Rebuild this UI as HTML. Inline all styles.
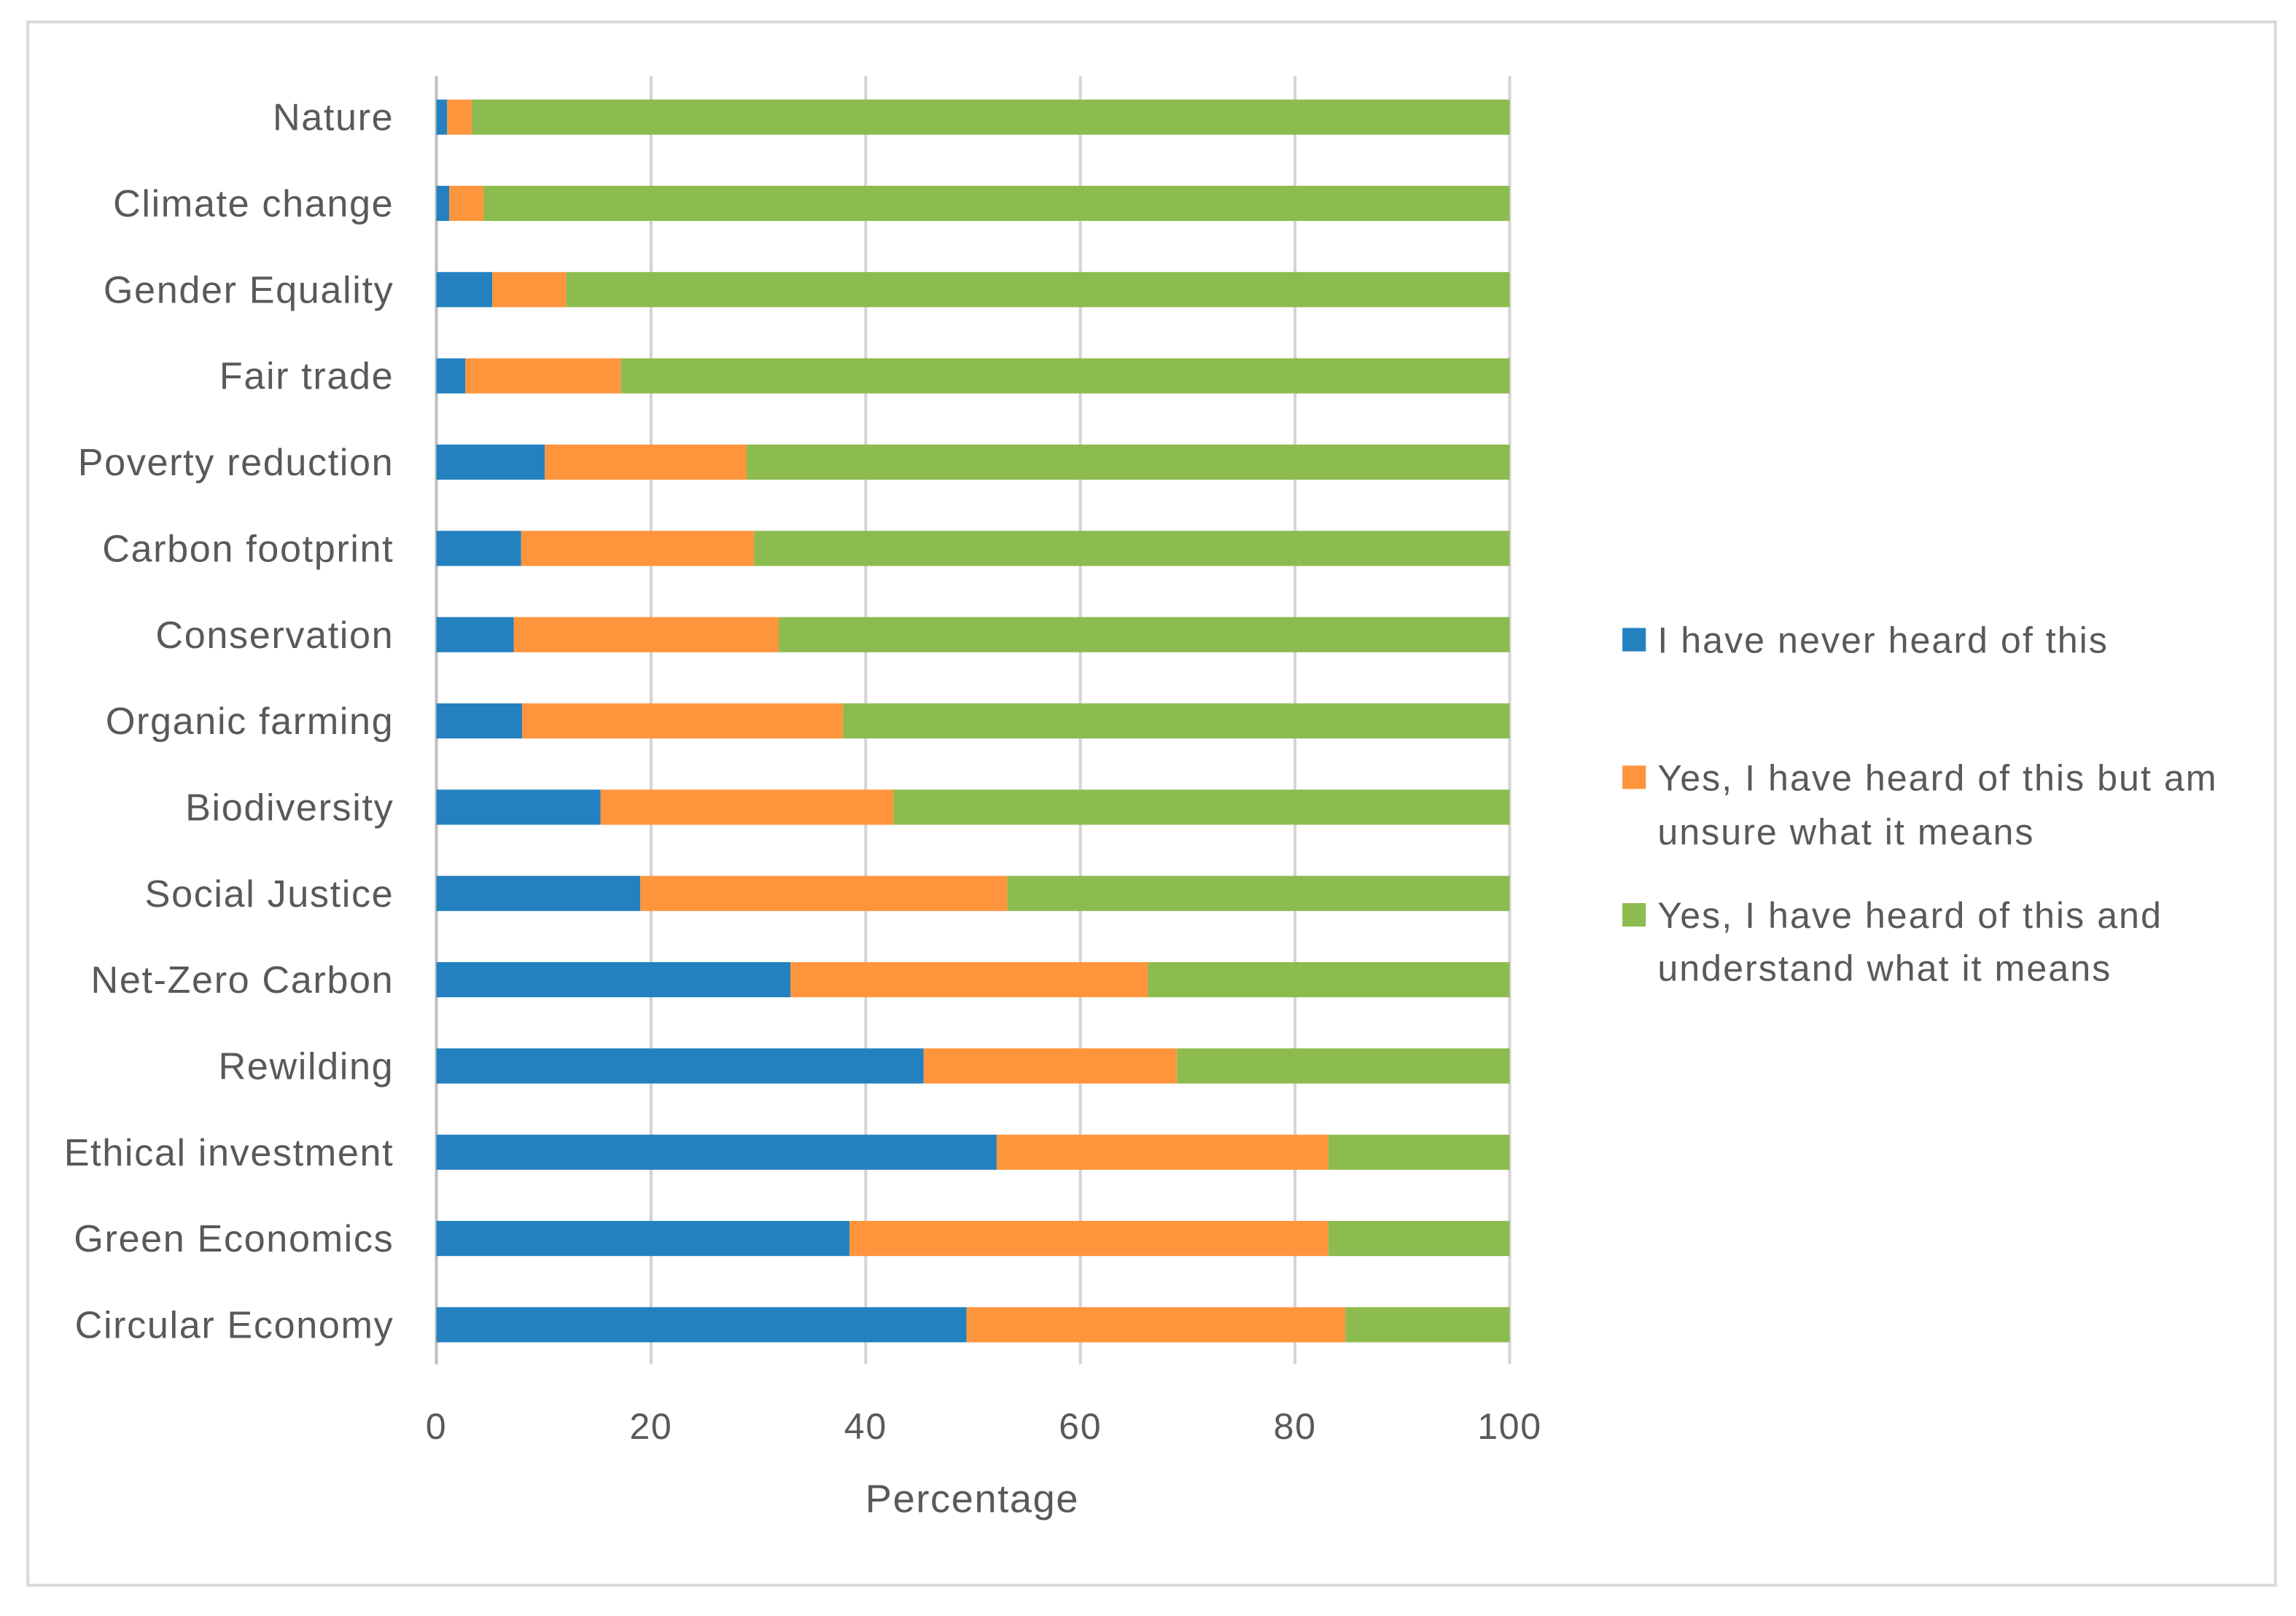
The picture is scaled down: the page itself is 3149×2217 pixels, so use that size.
<!DOCTYPE html>
<html><head><meta charset="utf-8"><style>html,body{margin:0;padding:0;background:#fff}svg{display:block}text{font-family:"Liberation Sans",sans-serif;fill:#595959}</style></head>
<body>
<svg id="chart" width="3149" height="2217" viewBox="0 0 1568 1104" xmlns="http://www.w3.org/2000/svg">
<rect x="19" y="15" width="1535" height="1068" fill="#fff" stroke="#d9d9d9" stroke-width="2"/>
<g id="grid"></g><g id="bars"></g><g id="labels"></g>
<text x="664" y="1033" font-size="27" letter-spacing="0.8" text-anchor="middle">Percentage</text>
<g font-size="25" letter-spacing="1">
<rect x="1108" y="429" width="16" height="16" fill="#2481bf"/>
<text x="1132" y="446">I have never heard of this</text>
<rect x="1108" y="523" width="16" height="16" fill="#fe953d"/>
<text x="1132" y="540">Yes, I have heard of this but am</text>
<text x="1132" y="577">unsure what it means</text>
<rect x="1108" y="617" width="16" height="16" fill="#8cbb4f"/>
<text x="1132" y="634">Yes, I have heard of this and</text>
<text x="1132" y="670">understand what it means</text>
</g>
</svg>
<script>
const categories=["Nature","Climate change","Gender Equality","Fair trade","Poverty reduction","Carbon footprint","Conservation","Organic farming","Biodiversity","Social Justice","Net-Zero Carbon","Rewilding","Ethical investment","Green Economics","Circular Economy"];
const neverHeard=[1,1.2,5.2,2.7,10.1,7.9,7.2,8,15.3,19,33,45.4,52.2,38.5,49.4];
const unsure=[2.3,3.2,6.9,14.5,18.8,21.7,24.7,29.9,27.3,34.2,33.3,23.6,30.9,44.6,35.3];
const understand=[96.7,95.6,87.9,82.8,71.1,70.4,68.1,62.1,57.4,46.8,33.7,31,16.9,16.9,15.3];
const xTicks=[0,20,40,60,80,100];
const NS="http://www.w3.org/2000/svg";
const x=v=>298+v*7.33;
const yC=i=>80+i*58.93;
const BH=24;
function mk(tag,attrs,parent){const e=document.createElementNS(NS,tag);for(const k in attrs)e.setAttribute(k,attrs[k]);parent.appendChild(e);return e;}
const grid=document.getElementById('grid'),bars=document.getElementById('bars'),labels=document.getElementById('labels');
xTicks.forEach(t=>{
 const l=mk('line',{x1:x(t),x2:x(t),y1:52,y2:932,stroke:t===0?'#bfbfbf':'#d4d4d4','stroke-width':2},grid);
 
 
 const tx=mk('text',{x:x(t),y:983,'font-size':25,'letter-spacing':0.8,'text-anchor':'middle'},labels);
 tx.textContent=t;
 
 
});
const series=[[neverHeard,'#2481bf','never'],[unsure,'#fe953d','unsure'],[understand,'#8cbb4f','understand']];
categories.forEach((c,i)=>{
 let acc=0;
 series.forEach(([arr,col,nm])=>{
  const r=mk('rect',{x:x(acc),y:yC(i)-BH/2,width:x(acc+arr[i])-x(acc),height:BH,fill:col},bars);
  
  
  acc+=arr[i];
 });
 const t=mk('text',{x:269,y:yC(i)+9,'font-size':26,'letter-spacing':0.8,'text-anchor':'end'},labels);
 t.textContent=c;
 
 
});
</script>
</body></html>
